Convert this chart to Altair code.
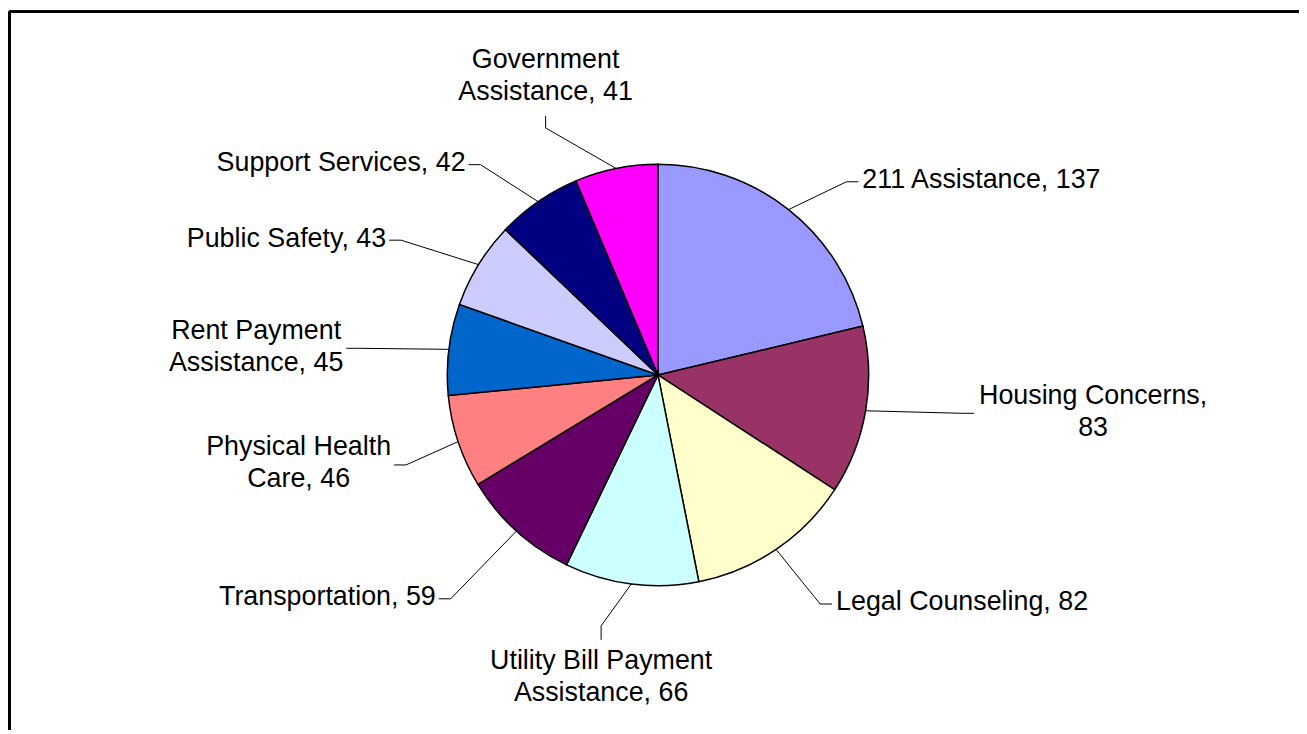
import math
import altair as alt
import pandas as pd

# ---------------- data ----------------
categories = ["211 Assistance", "Housing Concerns", "Legal Counseling",
              "Utility Bill Payment Assistance", "Transportation",
              "Physical Health Care", "Rent Payment Assistance",
              "Public Safety", "Support Services", "Government Assistance"]
values = [137, 83, 82, 66, 59, 46, 45, 43, 42, 41]
colors = ["#9999FF", "#993366", "#FFFFCC", "#CCFFFF", "#660066",
          "#FF8080", "#0066CC", "#CCCCFF", "#000080", "#FF00FF"]

# ---------------- layout (label placement, not data) ----------------
W, H = 1299, 724          # chart size (px)
CX, CY = 654.0, 367.0     # pie centre inside chart (px)
R = 212.0                 # pie radius (px)
FS = 27                   # font size
LH = 32                   # line height
STUB = 12.0               # short leader segment (px)
# per label: angle nudge (deg), elbow radius (x R), side, words on first line (0 = single line)
label_layout = {
    "211 Assistance":                  (6.0, 1.281, "R", 0),
    "Housing Concerns":                (-2.6, 1.455, "R", 2),
    "Legal Counseling":                (-1.2, 1.332, "R", 0),
    "Utility Bill Payment Assistance": (5.5, 1.221, "B", 3),
    "Transportation":                  (0.6, 1.448, "L", 0),
    "Physical Health Care":            (-1.2, 1.270, "L", 2),
    "Rent Payment Assistance":         (-1.9, 1.428, "L", 2),
    "Public Safety":                   (-3.9, 1.377, "L", 0),
    "Support Services":                (-5.5, 1.306, "L", 0),
    "Government Assistance":           (-13.0, 1.288, "T", 1),
}

# Arial / Liberation Sans advance widths (per 1000 em)
AFM = {" ": 278, ",": 278, "0": 556, "1": 556, "2": 556, "3": 556, "4": 556,
       "5": 556, "6": 556, "7": 556, "8": 556, "9": 556,
       "A": 667, "B": 667, "C": 722, "G": 778, "H": 722, "L": 556, "P": 667,
       "R": 722, "S": 667, "T": 611, "U": 722,
       "a": 556, "b": 556, "c": 500, "d": 556, "e": 556, "f": 278, "g": 556,
       "h": 556, "i": 222, "l": 222, "m": 833, "n": 556, "o": 556, "p": 556,
       "r": 333, "s": 500, "t": 278, "u": 556, "v": 500, "y": 500}


def text_width(s):
    return sum(AFM.get(ch, 556) for ch in s) / 1000.0 * FS


total = float(sum(values))
pie_rows, line_rows, text_rows = [], [], []
cum = 0.0
for i, (cat, val) in enumerate(zip(categories, values)):
    start = cum / total * 360.0
    cum += val
    end = cum / total * 360.0
    mid = (start + end) / 2.0
    pie_rows.append({"category": cat, "value": val, "idx": i, "cx": 0.0, "cy": 0.0})

    dth, rr, side, nfirst = label_layout[cat]
    # points in px relative to centre, y up
    ex, ey = R * math.sin(math.radians(mid)), R * math.cos(math.radians(mid))
    a2 = math.radians(mid + dth)
    kx, ky = rr * R * math.sin(a2), rr * R * math.cos(a2)
    sx, sy = kx, ky
    if side == "L":
        sx -= STUB
    elif side == "R":
        sx += STUB
    elif side == "T":
        sy += STUB
    else:
        sy -= STUB + 2
    for j, (px, py) in enumerate([(ex, ey), (kx, ky), (sx, sy)]):
        line_rows.append({"category": cat, "pt": j, "x": px / R, "y": py / R})

    full = f"{cat}, {val}"
    words = full.split(" ")
    lines = [full] if nfirst == 0 else [" ".join(words[:nfirst]), " ".join(words[nfirst:])]
    n = len(lines)
    maxw = max(text_width(l) for l in lines)
    if side == "L":
        if n == 1:
            tx, align = sx - 3, "right"
        else:
            tx, align = sx - 3 - maxw / 2.0, "center"
        cyb = sy
    elif side == "R":
        if n == 1:
            tx, align = sx + 4, "left"
        else:
            tx, align = sx + 5 + maxw / 2.0, "center"
        cyb = sy
    elif side == "T":
        tx, align = sx, "center"
        cyb = sy + 23 + (n - 1) * LH / 2.0
    else:
        tx, align = sx, "center"
        cyb = sy - 23 - (n - 1) * LH / 2.0
    # vega puts the first line at the anchor: move up so the block is centred
    ty = cyb + (n - 1) * LH / 2.0 + 1.5
    text_rows.append({"category": cat, "label": "\n".join(lines),
                      "x": tx / R, "y": ty / R, "align": align})

pie_df = pd.DataFrame(pie_rows)
line_df = pd.DataFrame(line_rows)
text_df = pd.DataFrame(text_rows)

xs = alt.Scale(domain=[-CX / R, (W - CX) / R], nice=False, zero=False)
ys = alt.Scale(domain=[-(H - CY) / R, CY / R], nice=False, zero=False)

pie = alt.Chart(pie_df).mark_arc(radius=R, stroke="black", strokeWidth=1.5).encode(
    theta=alt.Theta("value:Q", stack=True),
    color=alt.Color("category:N", scale=alt.Scale(domain=categories, range=colors), legend=None),
    order=alt.Order("idx:Q", sort="ascending"),
    x=alt.X("cx:Q", scale=xs, axis=None),
    y=alt.Y("cy:Q", scale=ys, axis=None),
)

leaders = alt.Chart(line_df).mark_line(color="black", strokeWidth=1).encode(
    x=alt.X("x:Q", scale=xs, axis=None),
    y=alt.Y("y:Q", scale=ys, axis=None),
    detail="category:N",
    order=alt.Order("pt:Q"),
)

text_layers = []
for al in ["left", "right", "center"]:
    text_layers.append(
        alt.Chart(text_df).transform_filter(alt.datum.align == al).mark_text(
            align=al, baseline="middle", lineBreak="\n", lineHeight=LH,
            font="Liberation Sans", fontSize=FS, color="black",
        ).encode(
            x=alt.X("x:Q", scale=xs, axis=None),
            y=alt.Y("y:Q", scale=ys, axis=None),
            text="label:N",
        )
    )

frame_top = alt.Chart(pie_df).mark_rule(color="black", strokeWidth=2).encode(
    x=alt.value(1.5), x2=alt.value(W), y=alt.value(1.5))
frame_left = alt.Chart(pie_df).mark_rule(color="black", strokeWidth=2).encode(
    x=alt.value(1.5), y=alt.value(1.5), y2=alt.value(H))

chart = alt.layer(pie, leaders, *text_layers, frame_top, frame_left).properties(
    width=W, height=H, autosize=alt.AutoSizeParams(type="none"), padding=0,
).configure_view(stroke=None)

chart.save("out.html", embed_options={"renderer": "svg", "actions": False})
